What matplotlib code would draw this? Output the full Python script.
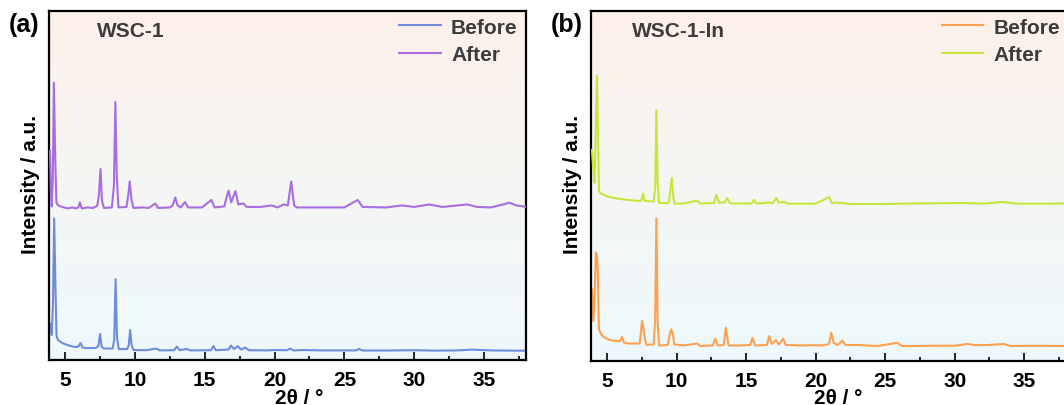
import numpy as np
import matplotlib
matplotlib.use("Agg")
import matplotlib.pyplot as plt
from matplotlib.colors import LinearSegmentedColormap
from matplotlib.ticker import MultipleLocator

plt.rcParams["font.family"] = ["Liberation Sans", "DejaVu Sans"]
plt.rcParams["font.weight"] = "bold"

# ── XRD traces (2θ in degrees, intensity in a.u., "after" already stacked) ────
a_before_x = [3.86, 3.96, 4.05, 4.14, 4.22, 4.31, 4.39, 4.5, 4.8, 5.25, 5.7, 5.95, 6.11, 6.25,
              6.5, 7.2, 7.38, 7.51, 7.62, 7.8, 8.4, 8.52, 8.62, 8.72, 8.85, 9.45, 9.56, 9.66,
              9.76, 9.9, 10.8, 11.53, 11.8, 12.8, 13.0, 13.2, 13.7, 14.0, 15.45, 15.62, 15.8,
              16.7, 16.88, 17.1, 17.37, 17.6, 17.9, 18.15, 19.5, 20.0, 20.9, 21.1, 21.35, 22.0,
              23.5, 25.8, 26.05, 26.3, 28.0, 30.0, 31.5, 33.0, 34.2, 35.5, 37.0, 38.0]
a_before_y = [37, 36, 25, 60, 142, 75, 24, 20, 17, 14.6, 13, 13.5, 17, 12.5,
              12, 12, 14, 26, 13, 11.5, 11.5, 20, 81, 22, 11, 11, 15, 30,
              15, 10, 9.8, 11.5, 9.6, 9.8, 13.5, 9.8, 11, 9.6, 9.8, 14, 9.8,
              10.5, 14.5, 11, 13.8, 10.5, 12.5, 9.8, 9.6, 10.0, 9.8, 11.5, 9.6, 10,
              9.6, 9.6, 11.0, 9.5, 9.5, 9.8, 9.4, 9.6, 10.4, 9.6, 9.4, 9.3]

a_after_x = [3.86, 3.92, 3.98, 4.04, 4.12, 4.2, 4.3, 4.38, 4.5, 4.8, 5.2, 5.5, 5.8, 5.95, 6.06,
             6.2, 6.6, 7.0, 7.3, 7.42, 7.54, 7.64, 7.78, 8.35, 8.5, 8.6, 8.7, 8.82, 9.4, 9.52,
             9.63, 9.76, 9.9, 10.5, 11.0, 11.46, 11.65, 12.5, 12.7, 12.89, 13.05, 13.3, 13.58,
             13.8, 14.8, 15.48, 15.7, 16.4, 16.6, 16.71, 16.9, 17.05, 17.2, 17.4, 17.77, 18.0,
             19.0, 19.79, 20.2, 20.65, 20.95, 21.19, 21.4, 21.6, 23.0, 25.0, 25.95, 26.3, 28.0,
             29.1, 30.0, 31.08, 32.0, 33.79, 34.5, 35.5, 36.5, 36.8, 37.3, 38.0]
a_after_y = [209, 210, 170, 154, 180, 278, 200, 158, 155, 153.5, 152, 153, 152, 153, 158,
             152, 153, 152.5, 154.5, 165, 191.5, 160, 152.5, 153, 175, 258.7, 185, 153, 153.5, 165,
             179, 160, 152.5, 153, 152.5, 157, 152.5, 153, 155, 163, 155, 153, 158.5,
             153, 153, 160.5, 153, 154, 165, 169.8, 158, 164, 169.5, 156, 157, 153.5,
             153.5, 155, 153, 156, 155, 179, 155, 153, 153, 153, 160.5, 153.5, 153,
             155, 153.5, 156, 153.5, 156, 153.5, 153, 156.5, 157.8, 155, 153.6]

b_before_x = [3.86, 3.92, 4.02, 4.12, 4.2, 4.28, 4.33, 4.42, 4.6, 4.76, 5.2, 5.72, 5.95, 6.08,
              6.22, 6.5, 7.35, 7.45, 7.52, 7.62, 7.72, 7.83, 8.36, 8.46, 8.55, 8.64, 8.74, 9.37,
              9.5, 9.61, 9.7, 9.85, 10.5, 11.48, 11.7, 12.6, 12.78, 12.97, 13.4, 13.54, 13.74,
              14.5, 15.3, 15.46, 15.65, 16.5, 16.66, 16.85, 17.14, 17.35, 17.67, 17.85, 19.0,
              19.88, 20.5, 20.95, 21.13, 21.3, 21.6, 21.92, 22.15, 23.0, 24.5, 25.88, 26.2, 27.0,
              28.5, 30.0, 30.92, 31.5, 32.4, 33.56, 34.0, 36.0, 38.0]
b_before_y = [70, 72, 40, 70, 108.5, 105, 95, 32, 26, 24, 21, 20, 20, 24,
              18.5, 17.5, 17.5, 30, 40, 33, 22, 16.2, 16.5, 40, 142.6, 40, 15.5, 16,
              26, 31.6, 29, 16.5, 15.5, 17.5, 15, 15.5, 22.2, 15.5, 16, 33.2, 15.5,
              15.5, 16, 23.2, 15.5, 16, 24.9, 17, 20.9, 16.5, 22.2, 16, 15.5,
              15.8, 15.5, 17, 28.2, 18, 16, 20.5, 16, 16, 15, 18.2, 15, 15,
              15.3, 15.3, 17, 15.8, 16, 17, 15, 15.2, 15]

b_after_x = [3.86, 3.92, 4.02, 4.11, 4.2, 4.28, 4.35, 4.42, 4.6, 5.0, 5.5, 5.96, 6.5, 7.4, 7.5,
             7.6, 7.7, 8.36, 8.47, 8.55, 8.64, 8.74, 9.44, 9.55, 9.66, 9.76, 9.85, 10.5, 11.48,
             11.7, 12.7, 12.87, 13.05, 13.45, 13.64, 13.85, 15.4, 15.56, 15.75, 16.76, 16.9,
             17.19, 17.35, 17.72, 18.0, 20.0, 20.98, 21.15, 21.44, 22.5, 25.0, 27.0, 30.63,
             32.0, 33.44, 34.5, 36.5, 38.0]
b_after_y = [211, 210, 190, 178, 240, 285, 230, 170, 167, 164.7, 163, 162, 161, 160, 162,
             167.4, 160, 159.5, 175, 250.6, 180, 158, 158, 170, 183, 165, 157.3, 157.5, 160.3,
             157.5, 158, 166.3, 158.5, 158.5, 163, 157.5, 157.5, 161.3, 157.5, 158.5, 157.5,
             163, 158.5, 159, 157.3, 157.3, 164, 158, 158.5, 157, 157, 157.5, 158,
             157.3, 159, 157.3, 157.3, 157.5]

panel_tags   = ["(a)", "(b)"]
sample_names = ["WSC-1", "WSC-1-In"]
series_names = ["Before", "After"]
colors = {"a": ("#6e8cdc", "#a66ee0"), "b": ("#ffa04e", "#c6e63c")}

XLIM = (3.85, 38)
YLIM = (0, 350)
TEXT_GREY = "#3c3c3c"
W, H = 1064, 406

# vertical wash: pale peach at the top fading to pale sky blue at the bottom
bg_cmap = LinearSegmentedColormap.from_list("wash", ["#eef9fd", "#f5f6f4", "#fdf0e9"])


def px(x, y):
    """pixel position (from top-left) -> figure fraction"""
    return x / W, 1 - y / H


def draw_panel(ax, tag, name, before, after, cols, name_x, leg_right, ylab_xy, xlab_xy):
    grad = np.linspace(0, 1, 256).reshape(-1, 1)
    ax.imshow(grad, cmap=bg_cmap, origin="lower", aspect="auto",
              extent=[XLIM[0], XLIM[1], YLIM[0], YLIM[1]], zorder=0)

    ax.plot(before[0], before[1], color=cols[0], lw=1.5, label=series_names[0], zorder=2)
    ax.plot(after[0], after[1], color=cols[1], lw=1.5, label=series_names[1], zorder=3)

    ax.set_xlim(*XLIM)
    ax.set_ylim(*YLIM)
    ax.set_yticks([])
    ax.xaxis.set_major_locator(MultipleLocator(5))
    ax.xaxis.set_minor_locator(MultipleLocator(2.5))
    ax.tick_params(axis="x", which="major", direction="in", length=6, width=1.2,
                   labelsize=15, pad=7)
    ax.tick_params(axis="x", which="minor", direction="in", length=3, width=1.2)
    for s in ax.spines.values():
        s.set_linewidth(1.6)
        s.set_color("black")

    fig.text(*px(*xlab_xy), "2θ / °", fontsize=15, fontweight="bold",
             ha="center", va="top")
    fig.text(*px(*ylab_xy), "Intensity / a.u.", fontsize=15, fontweight="bold",
             rotation=90, ha="center", va="center")

    ax.text(name_x, 0.945, name, transform=ax.transAxes, fontsize=15,
            fontweight="bold", color=TEXT_GREY, va="center", ha="left")
    ax.text(-0.085, 0.963, tag, transform=ax.transAxes, fontsize=18,
            fontweight="bold", color="black", va="center", ha="left")

    leg = ax.legend(loc="upper right", frameon=False, fontsize=15, handlelength=2.0,
                    handletextpad=0.5, labelspacing=0.4, borderaxespad=0.0,
                    bbox_to_anchor=(leg_right, 1.005))
    for t in leg.get_texts():
        t.set_color(TEXT_GREY)
        t.set_fontweight("bold")


fig = plt.figure(figsize=(W / 100, H / 100), dpi=100)
ax_a = fig.add_axes([49 / W, 45 / H, 477 / W, 349 / H])
ax_b = fig.add_axes([591 / W, 44 / H, 475 / W, 350 / H])

draw_panel(ax_a, panel_tags[0], sample_names[0],
           (a_before_x, a_before_y), (a_after_x, a_after_y), colors["a"],
           name_x=0.1, leg_right=1.0, ylab_xy=(30, 185), xlab_xy=(299, 389))
draw_panel(ax_b, panel_tags[1], sample_names[1],
           (b_before_x, b_before_y), (b_after_x, b_after_y), colors["b"],
           name_x=0.087, leg_right=1.006, ylab_xy=(573, 185), xlab_xy=(838, 389))

fig.savefig("out.png", dpi=100, facecolor="white")
